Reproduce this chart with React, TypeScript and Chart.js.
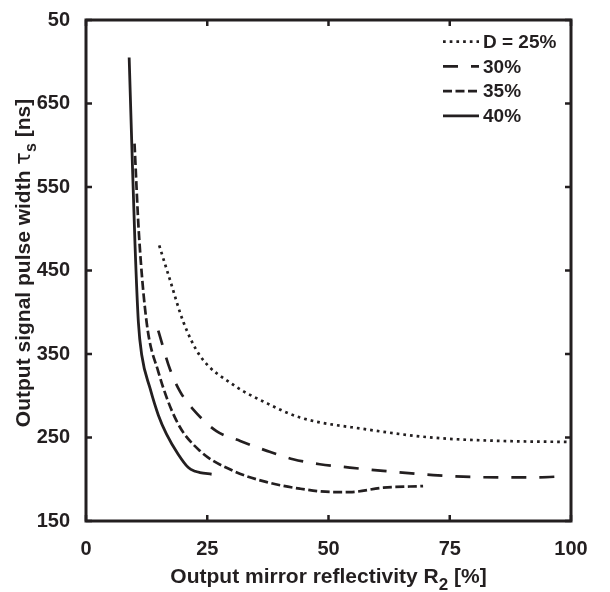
import React, { useEffect, useRef } from 'react';
import { Chart, registerables } from 'chart.js';

Chart.register(...registerables);

// ---- data ----
const seriesLabels = ['D = 25%', '30%', '35%', '40%'];

const d25x = [15.1, 17.3, 20.1, 23.5, 30.4, 37.3, 44.1, 57.9, 71.6, 85.4, 99.1];
const d25y = [480, 439, 388, 348, 313, 291, 274, 259.7, 249.8, 245.9, 244.7];

const d30x = [14.9, 17.3, 19.4, 22.5, 26.9, 31.8, 37.3, 42.7, 48.2, 54.4, 61.3, 71.6, 81.9, 92.2, 99];
const d30y = [378, 332, 305, 281, 257.7, 245.9, 234, 224, 218, 214, 210, 205, 202.4, 202.2, 203.6];

const d35x = [10.0, 10.9, 12.5, 14.9, 18.7, 23.5, 30.4, 37.3, 44.1, 51, 54.4, 61.3, 69.5];
const d35y = [602, 495, 388, 329, 269.5, 234, 210, 196.5, 188.7, 184.7, 184.7, 189.9, 191.8];

const d40x = [8.9, 9.5, 10.1, 10.8, 11.5, 13.2, 14.9, 16.6, 19.0, 21.1, 22.5, 23.5, 25.9];
const d40y = [705, 590, 482, 388, 348.5, 309, 277, 254, 230, 214, 209.5, 208, 206];

const xTicks = [0, 25, 50, 75, 100];
const yTicks = [150, 250, 350, 450, 550, 650, 750];
const yTickLabels = ['150', '250', '350', '450', '550', '650', '50'];

const INK = '#231f20';
const FONT = '"Liberation Sans", Arial, Helvetica, sans-serif';

const seriesX = [d25x, d30x, d35x, d40x];
const seriesY = [d25y, d30y, d35y, d40y];
const seriesDash = [[2.7, 4], [15, 13], [9, 3.5], []];
const seriesWidth = [2.7, 2.7, 2.7, 2.8];

type Seg = { text: string; font: string; dy: number };

function drawRich(ctx: CanvasRenderingContext2D, segs: Seg[], cx: number, cy: number) {
  let total = 0;
  const widths = segs.map((s) => {
    ctx.font = s.font;
    const w = ctx.measureText(s.text).width;
    total += w;
    return w;
  });
  let x = cx - total / 2;
  ctx.textAlign = 'left';
  ctx.textBaseline = 'alphabetic';
  segs.forEach((s, i) => {
    ctx.font = s.font;
    ctx.fillText(s.text, x, cy + s.dy);
    x += widths[i];
  });
}

const decorPlugin = {
  id: 'decor',
  afterDraw(chart: any) {
    const { ctx, chartArea } = chart;
    const { left, right, top, bottom } = chartArea;
    const xs = chart.scales.x;
    const ys = chart.scales.y;
    ctx.save();
    ctx.strokeStyle = INK;
    ctx.fillStyle = INK;
    ctx.setLineDash([]);
    // frame
    ctx.lineWidth = 3;
    ctx.strokeRect(left, top, right - left, bottom - top);
    // inward ticks
    ctx.lineWidth = 2.5;
    const tl = 6;
    xTicks.forEach((v) => {
      const px = xs.getPixelForValue(v);
      ctx.beginPath();
      ctx.moveTo(px, bottom);
      ctx.lineTo(px, bottom - tl);
      ctx.moveTo(px, top);
      ctx.lineTo(px, top + tl);
      ctx.stroke();
    });
    yTicks.forEach((v) => {
      const py = ys.getPixelForValue(v);
      ctx.beginPath();
      ctx.moveTo(left, py);
      ctx.lineTo(left + tl, py);
      ctx.moveTo(right, py);
      ctx.lineTo(right - tl, py);
      ctx.stroke();
    });
    // x title
    const bold = `bold 21px ${FONT}`;
    drawRich(
      ctx,
      [
        { text: 'Output mirror reflectivity R', font: bold, dy: 0 },
        { text: '2', font: `bold 17px ${FONT}`, dy: 7 },
        { text: ' [%]', font: bold, dy: 0 },
      ],
      (left + right) / 2,
      583
    );
    // y title
    ctx.save();
    ctx.translate(30, 263);
    ctx.rotate(-Math.PI / 2);
    drawRich(
      ctx,
      [
        { text: 'Output signal pulse width ', font: bold, dy: 0 },
        { text: 'τ', font: `21px "DejaVu Sans", ${FONT}`, dy: 0 },
        { text: 's', font: `bold 16px ${FONT}`, dy: 6 },
        { text: ' [ns]', font: bold, dy: 0 },
      ],
      0,
      0
    );
    ctx.restore();
    // legend
    const lx0 = 443;
    const lx1 = 479;
    const ly0 = 41.7;
    const lstep = 24.7;
    chart.data.datasets.forEach((ds: any, i: number) => {
      const y = ly0 + i * lstep;
      ctx.lineWidth = ds.borderWidth;
      ctx.setLineDash(ds.borderDash || []);
      ctx.beginPath();
      ctx.moveTo(lx0, y);
      ctx.lineTo(lx1, y);
      ctx.stroke();
      ctx.setLineDash([]);
      ctx.font = `bold 19px ${FONT}`;
      ctx.textAlign = 'left';
      ctx.textBaseline = 'middle';
      ctx.fillText(ds.label, 483, y + 1);
    });
    ctx.restore();
  },
};

export default function App() {
  const ref = useRef<HTMLCanvasElement | null>(null);

  useEffect(() => {
    document.body.style.margin = '0';
    const canvas = ref.current;
    if (!canvas) return;
    const datasets = seriesLabels.map((label, i) => ({
      label,
      data: seriesX[i].map((x, j) => ({ x, y: seriesY[i][j] })),
      borderColor: INK,
      backgroundColor: INK,
      borderWidth: seriesWidth[i],
      borderDash: seriesDash[i],
      borderCapStyle: 'butt',
      pointRadius: 0,
      fill: false,
      cubicInterpolationMode: 'monotone',
    }));
    const tickFont = { family: FONT, weight: 'bold', size: 20 } as any;
    const chart = new Chart(canvas, {
      type: 'line',
      data: { datasets } as any,
      options: {
        animation: false,
        responsive: false,
        maintainAspectRatio: false,
        layout: { padding: { left: 0, top: 14, right: 39, bottom: 0 } },
        plugins: { legend: { display: false }, tooltip: { enabled: false } },
        scales: {
          x: {
            type: 'linear',
            min: 0,
            max: 100,
            grid: { display: false },
            border: { display: false },
            ticks: {
              stepSize: 25,
              color: INK,
              font: tickFont,
              padding: 8,
              maxRotation: 0,
              autoSkip: false,
            },
            afterFit: (s: any) => {
              s.height = 71;
            },
          },
          y: {
            type: 'linear',
            min: 150,
            max: 750,
            grid: { display: false },
            border: { display: false },
            ticks: {
              stepSize: 100,
              color: INK,
              font: tickFont,
              padding: 8,
              autoSkip: false,
              callback: (v: any) => {
                const k = yTicks.indexOf(Number(v));
                return k >= 0 ? yTickLabels[k] : '';
              },
            },
            afterFit: (s: any) => {
              s.width = 86;
            },
          },
        },
      } as any,
      plugins: [decorPlugin],
    });
    return () => chart.destroy();
  }, []);

  return (
    <div style={{ width: 610, height: 592, background: '#fff' }}>
      <canvas ref={ref} width={610} height={592} style={{ display: 'block' }} />
    </div>
  );
}
